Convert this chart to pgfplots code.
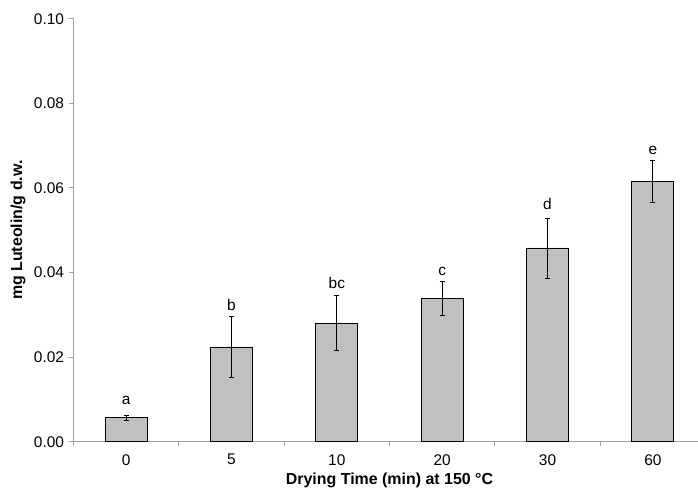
\documentclass[border=0pt]{standalone}
\usepackage{pgfplots}
\pgfplotsset{compat=1.18}
\usepackage{fontspec}
\setmainfont{Liberation Sans}
\definecolor{barfill}{RGB}{192,192,192}
\definecolor{axgray}{RGB}{160,160,160}
\begin{document}
\begin{tikzpicture}
\begin{axis}[
  at={(73.5bp,48.3bp)}, anchor=south west,
  scale only axis, width=632bp, height=423bp,
  xmin=-0.5, xmax=5.5, ymin=0, ymax=0.1,
  axis x line=bottom, axis y line=left,
  axis line style={-, draw=axgray, line width=0.9bp},
  xtick={0,1,2,3,4,5},
  xticklabels={0,5,10,20,30,60},
  major x tick style={draw=none},
  minor xtick={-0.5,0.5,1.5,2.5,3.5,4.5,5.5},
  minor x tick style={draw=axgray, line width=0.9bp},
  minor tick length=4bp,
  ytick={0,0.02,0.04,0.06,0.08,0.1},
  major y tick style={draw=axgray, line width=0.9bp},
  major tick length=4bp,
  tick align=outside,
  yticklabel style={/pgf/number format/fixed, /pgf/number format/fixed zerofill, /pgf/number format/precision=2},
  /pgf/number format/assume math mode=true,
  scaled y ticks=false,
  tick label style={font=\fontsize{15.5}{18}\selectfont},
  xticklabel style={yshift=-5bp},
  yticklabel style={xshift=-2bp},
  xlabel={\bfseries Drying Time (min) at 150 \textdegree C},
  ylabel={\bfseries mg Luteolin/g d.w.},
  label style={font=\fontsize{16}{19}\selectfont},
  xlabel style={yshift=-1bp},
  ylabel style={yshift=1.5bp},
  clip=false,
]
\addplot[ybar, bar width=42bp, fill=barfill, draw=black, line width=0.8bp,
  error bars/.cd, y dir=both, y explicit,
  error bar style={line width=0.8bp, black},
  error mark options={rotate=90, mark size=2.5bp, line width=0.8bp, black}]
coordinates {
  (0,0.0057) +- (0,0.0006)
  (1,0.0224) +- (0,0.0073)
  (2,0.0280) +- (0,0.0065)
  (3,0.0339) +- (0,0.0041)
  (4,0.0458) +- (0,0.0071)
  (5,0.0615) +- (0,0.0050)
};
\addplot[draw=none, mark=none, nodes near coords, point meta=explicit symbolic,
  nodes near coords style={font=\fontsize{15.5}{18}\selectfont, anchor=base, inner sep=0pt}]
coordinates {
  (0,0.00891) [a]
  (1,0.03113) [b]
  (2,0.0361) [bc]
  (3,0.0394) [c]
  (4,0.05478) [d]
  (5,0.06778) [e]
};
\end{axis}
\pgfresetboundingbox
\path[use as bounding box] (0,0) rectangle (698bp,490bp);
\end{tikzpicture}
\end{document}
